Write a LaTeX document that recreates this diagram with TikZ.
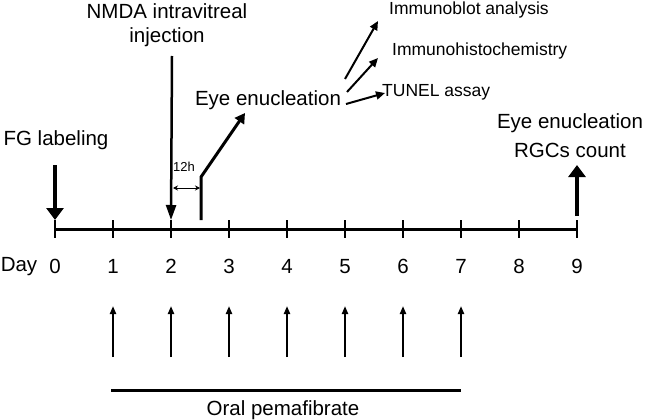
\documentclass[tikz,border=0pt]{standalone}
\usepackage{fontspec}
\setmainfont{Liberation Sans}
\usetikzlibrary{arrows.meta}
\begin{document}
\begin{tikzpicture}[x=1pt,y=-1pt,
  big/.style={font=\fontsize{20.5}{24}\selectfont, inner sep=0},
  small/.style={font=\fontsize{17.5}{20}\selectfont, inner sep=0},
  tiny/.style={font=\fontsize{13}{15}\selectfont, inner sep=0},
  thickarrow/.style={line width=4, -{Triangle[width=17pt,length=12pt]}},
  midarrow/.style={line width=2.5, -{Triangle[width=10pt,length=15pt]}},
  eyearrow/.style={line width=3, -{Triangle[width=11pt,length=10pt]}},
  labarrow/.style={line width=2, -{Triangle[width=8pt,length=9pt]}},
  pemaarrow/.style={line width=2, -{Triangle[width=6pt,length=8pt]}},
  tickline/.style={line width=1.5},
  axisline/.style={line width=3}]
\useasboundingbox (0,0) rectangle (645,420);
% axis
\foreach \i in {0,...,9}{
  \coordinate (d\i) at (55+58*\i,229);
  \coordinate (t\i) at (55+58*\i,220);
  \coordinate (b\i) at (55+58*\i,238);
  \draw[tickline] (t\i) -- (b\i);
  \node[big, anchor=base] (n\i) at (55+58*\i,273) {\i};
}
\draw[axisline] (d0) -- (d9);
\node[big, anchor=base] (day) at (19,271) {Day};
% FG labeling
\node[big] (fg) at (56,140) {FG labeling};
\coordinate (fgtop) at (55,165);
\draw[thickarrow] (fgtop) -- (t0);
% NMDA
\node[big] (nmda1) at (167,11) {NMDA intravitreal};
\node[big] (nmda2) at (167,37) {injection};
\coordinate (nmdatop) at (172,56);
\draw[midarrow] (nmdatop) -- (t2);
% eye enucleation at 2.5
\coordinate (e0) at (201,220);
\coordinate (e1) at (201,177);
\coordinate (e2) at (245,113);
\draw[eyearrow] (e0) -- (e1) -- (e2);
\coordinate (h0) at (173,188);
\coordinate (h1) at (200,188);
\draw[line width=1, {Stealth[length=5pt,width=5pt]}-{Stealth[length=5pt,width=5pt]}] (h0) -- (h1);
\node[tiny] (h12) at (184,167) {12h};
\node[big] (eye) at (268,100) {Eye enucleation};
% analyses
\node[small, anchor=west] (ib) at (389,10) {Immunoblot analysis};
\node[small, anchor=west] (ih) at (392,51) {Immunohistochemistry};
\node[small, anchor=west] (tu) at (382,92) {TUNEL assay};
\coordinate (a1) at (345,79);
\coordinate (a1e) at (378,21);
\coordinate (a2) at (347,92);
\coordinate (a2e) at (378,58);
\coordinate (a3) at (346,104);
\coordinate (a3e) at (385,93);
\draw[labarrow] (a1) -- (a1e);
\draw[labarrow] (a2) -- (a2e);
\draw[labarrow] (a3) -- (a3e);
% day 9
\node[big] (eye9) at (570,123) {Eye enucleation};
\node[big] (rgc) at (570,150) {RGCs count};
\coordinate (r0) at (577,216);
\coordinate (r1) at (577,165);
\draw[thickarrow] (r0) -- (r1);
% pemafibrate
\foreach \i in {1,...,7}{
  \coordinate (pb\i) at (55+58*\i,357);
  \coordinate (pt\i) at (55+58*\i,306);
  \draw[pemaarrow] (pb\i) -- (pt\i);
}
\coordinate (l0) at (111,390);
\coordinate (l1) at (461,390);
\draw[axisline] (l0) -- (l1);
\node[big] (oral) at (283,410) {Oral pemafibrate};
\end{tikzpicture}
\end{document}
